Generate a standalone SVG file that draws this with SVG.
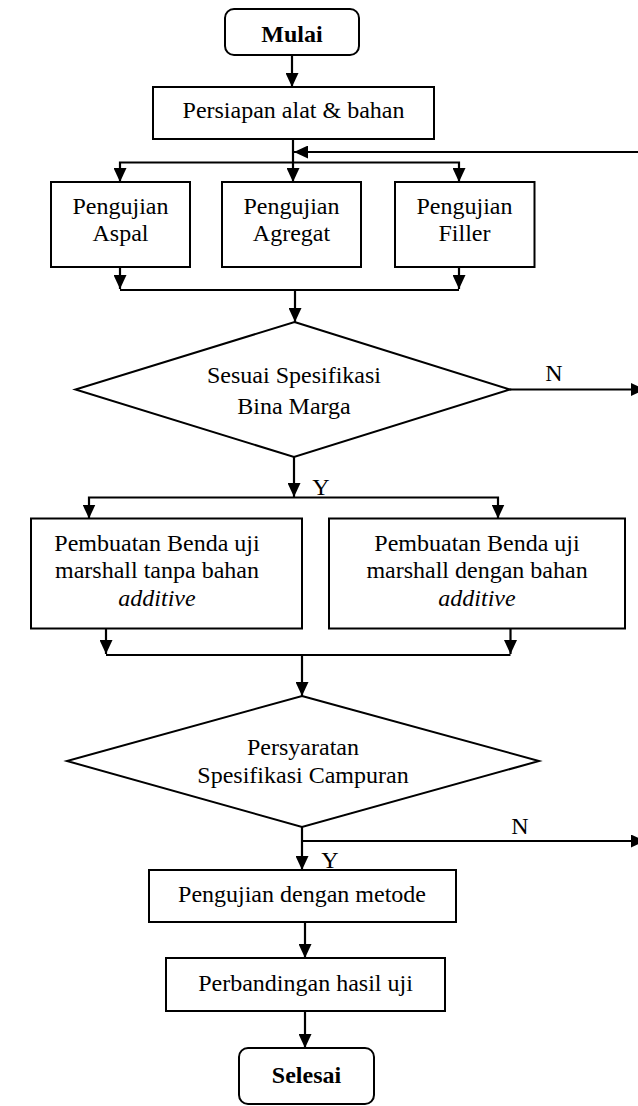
<svg xmlns="http://www.w3.org/2000/svg" width="638" height="1106" viewBox="0 0 638 1106">
<defs>
<marker id="ah" markerWidth="14" markerHeight="13" refX="14" refY="6.5" orient="auto" markerUnits="userSpaceOnUse">
<path d="M0,0 L14,6.5 L0,13 z" fill="#000"/>
</marker>
<style>
.b{fill:#fff;stroke:#000;stroke-width:2}
.t{font-family:"Liberation Serif","Times New Roman",serif;font-size:24px;fill:#000;text-anchor:middle}
.bold{font-weight:bold}
.it{font-style:italic}
.c{fill:none;stroke:#000;stroke-width:2.2}
.a{fill:none;stroke:#000;stroke-width:2.2;marker-end:url(#ah)}
</style>
</defs>
<rect width="638" height="1106" fill="#fff"/>
<g id="connectors">
<line class="a" x1="292" y1="55" x2="292" y2="87"/>
<line class="a" x1="293" y1="139" x2="293" y2="182"/>
<line class="a" x1="640" y1="152" x2="294" y2="152"/>
<polyline class="a" points="293,162.5 120,162.5 120,182"/>
<polyline class="a" points="293,162.5 459,162.5 459,182"/>
<line class="a" x1="120" y1="267" x2="120" y2="289"/>
<line class="a" x1="459" y1="267" x2="459" y2="289"/>
<line class="c" x1="120" y1="290" x2="459" y2="290"/>
<line class="a" x1="295" y1="290" x2="295" y2="322"/>
<line class="a" x1="510" y1="389.5" x2="645" y2="389.5"/>
<line class="a" x1="294" y1="457" x2="294" y2="497"/>
<polyline class="a" points="294,497.5 89,497.5 89,518.5"/>
<polyline class="a" points="294,497.5 498,497.5 498,518.5"/>
<line class="a" x1="106" y1="628" x2="106" y2="654"/>
<line class="a" x1="510.5" y1="628" x2="510.5" y2="654"/>
<line class="c" x1="106" y1="655" x2="510.5" y2="655"/>
<line class="a" x1="302" y1="655" x2="302" y2="696"/>
<line class="a" x1="302" y1="841" x2="645" y2="841"/>
<line class="a" x1="302" y1="827" x2="302" y2="870"/>
<line class="a" x1="305" y1="922" x2="305" y2="958"/>
<line class="a" x1="305" y1="1011" x2="305" y2="1048"/>
<text class="t" x="554" y="381">N</text>
<text class="t" x="321" y="495">Y</text>
<text class="t" x="520" y="834">N</text>
<text class="t" x="330" y="868">Y</text>
</g>
<g id="mulai">
<rect class="b" x="225" y="9" width="134" height="46" rx="9"/>
<text class="t bold" x="292" y="42">Mulai</text>
</g>
<g id="persiapan">
<rect class="b" x="153" y="87" width="281" height="52"/>
<text class="t" x="293.5" y="118">Persiapan alat &amp; bahan</text>
</g>
<g id="aspal">
<rect class="b" x="51" y="182" width="139" height="85"/>
<text class="t" x="120.5" y="214">Pengujian</text>
<text class="t" x="120.5" y="241">Aspal</text>
</g>
<g id="agregat">
<rect class="b" x="222" y="182" width="139" height="85"/>
<text class="t" x="291.5" y="214">Pengujian</text>
<text class="t" x="291.5" y="241">Agregat</text>
</g>
<g id="filler">
<rect class="b" x="395" y="182" width="139.5" height="85"/>
<text class="t" x="464.5" y="214">Pengujian</text>
<text class="t" x="464.5" y="241">Filler</text>
</g>
<g id="decision1">
<polygon class="b" points="294.5,322 510,389.5 294,457 75.5,389.5"/>
<text class="t" x="294" y="383">Sesuai Spesifikasi</text>
<text class="t" x="294" y="414">Bina Marga</text>
</g>
<g id="tanpa">
<rect class="b" x="31" y="518.5" width="271" height="110"/>
<text class="t" x="157" y="551">Pembuatan Benda uji</text>
<text class="t" x="157" y="578">marshall tanpa bahan</text>
<text class="t it" x="157" y="606">additive</text>
</g>
<g id="dengan">
<rect class="b" x="329" y="518.5" width="296" height="110"/>
<text class="t" x="477" y="551">Pembuatan Benda uji</text>
<text class="t" x="477" y="578">marshall dengan bahan</text>
<text class="t it" x="477" y="606">additive</text>
</g>
<g id="decision2">
<polygon class="b" points="302,696 539,761 302,827 67,761"/>
<text class="t" x="303" y="755">Persyaratan</text>
<text class="t" x="303" y="783">Spesifikasi Campuran</text>
</g>
<g id="metode">
<rect class="b" x="149" y="870" width="307" height="52"/>
<text class="t" x="302" y="902">Pengujian dengan metode</text>
</g>
<g id="perbandingan">
<rect class="b" x="166" y="958" width="279" height="53"/>
<text class="t" x="305.5" y="991">Perbandingan hasil uji</text>
</g>
<g id="selesai">
<rect class="b" x="239" y="1048" width="135" height="56" rx="9"/>
<text class="t bold" x="306.5" y="1083">Selesai</text>
</g>
</svg>
